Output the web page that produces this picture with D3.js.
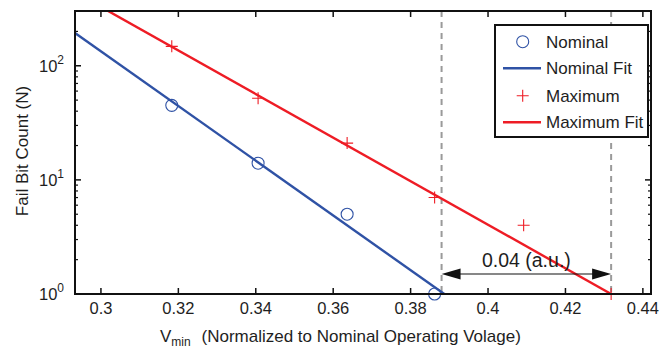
<!DOCTYPE html>
<html>
<head>
<meta charset="utf-8">
<script src="https://cdn.jsdelivr.net/npm/d3@7"></script>
<style>
  html, body { margin: 0; padding: 0; background: #fff; }
  svg { display: block; font-family: "Liberation Sans", Arial, sans-serif; }
</style>
</head>
<body>
<svg id="chart" width="661" height="349"></svg>
<script>
// ---- data ----
const nominalX = [0.3183, 0.3406, 0.3636, 0.3862];
const nominalY = [45, 14, 5, 1];
const maximumX = [0.3183, 0.3406, 0.3636, 0.3862, 0.4092, 0.4318];
const maximumY = [148, 52, 21, 7, 4, 1];
const nominalFitX = [0.2933, 0.3887];
const nominalFitY = [194, 1];
const maximumFitX = [0.2933, 0.4318];
const maximumFitY = [440, 1];
const marginLinesX = [0.3880, 0.4318];
const marginLabel = "0.04 (a.u.)";
const xTicks = [0.30, 0.32, 0.34, 0.36, 0.38, 0.40, 0.42, 0.44];
const xTickLabels = ["0.3", "0.32", "0.34", "0.36", "0.38", "0.4", "0.42", "0.44"];
const yTicks = [1, 10, 100];
const yTickExponents = ["0", "1", "2"];
const legendLabels = ["Nominal", "Nominal Fit", "Maximum", "Maximum Fit"];

// ---- layout ----
const L = 75, R = 651, T = 11, B = 294;
const blue = "#2f52a5", red = "#ee1c25", txt = "#1e1e1e";
const svg = d3.select("#chart");

const x = d3.scaleLinear().domain([0.2933, 0.4421]).range([L, R]);
const y = d3.scaleLog().domain([1, 302]).range([B, T]);

svg.append("defs").append("clipPath").attr("id", "clip")
  .append("rect").attr("x", L).attr("y", T).attr("width", R - L).attr("height", B - T);

const plot = svg.append("g").attr("clip-path", "url(#clip)");

// dashed margin lines
plot.selectAll("line.dash").data(marginLinesX).join("line")
  .attr("x1", d => x(d)).attr("x2", d => x(d))
  .attr("y1", T).attr("y2", B)
  .attr("stroke", "#9a9a9a").attr("stroke-width", 2)
  .attr("stroke-dasharray", "6,5");

// fit lines
const line = d3.line().x(d => x(d[0])).y(d => y(d[1]));
plot.append("path").datum(d3.zip(nominalFitX, nominalFitY))
  .attr("d", line).attr("fill", "none").attr("stroke", blue).attr("stroke-width", 2.4);
plot.append("path").datum(d3.zip(maximumFitX, maximumFitY))
  .attr("d", line).attr("fill", "none").attr("stroke", red).attr("stroke-width", 2.4);

// markers
svg.append("g").selectAll("circle").data(d3.zip(nominalX, nominalY)).join("circle")
  .attr("cx", d => x(d[0])).attr("cy", d => y(d[1])).attr("r", 6)
  .attr("fill", "none").attr("stroke", blue).attr("stroke-width", 1.1);
svg.append("g").selectAll("path").data(d3.zip(maximumX, maximumY)).join("path")
  .attr("transform", d => `translate(${x(d[0])},${y(d[1])})`)
  .attr("d", "M-6,0H6M0,-6V6")
  .attr("stroke", red).attr("stroke-width", 1.1).attr("fill", "none");

// arrow annotation
const ay = 274;
const ax1 = x(marginLinesX[0]), ax2 = x(marginLinesX[1]);
svg.append("line").attr("x1", ax1 + 10).attr("x2", ax2 - 10).attr("y1", ay).attr("y2", ay)
  .attr("stroke", "#111").attr("stroke-width", 1.2);
svg.append("path").attr("d", `M${ax1},${ay}L${ax1 + 19},${ay - 5.5}L${ax1 + 19},${ay + 5.5}Z`).attr("fill", "#111");
svg.append("path").attr("d", `M${ax2},${ay}L${ax2 - 19},${ay - 5.5}L${ax2 - 19},${ay + 5.5}Z`).attr("fill", "#111");
svg.append("text").attr("x", (ax1 + ax2) / 2).attr("y", 267)
  .attr("text-anchor", "middle").attr("font-size", 19.5).attr("fill", txt).text(marginLabel);

// axes frame
const axisG = svg.append("g");
axisG.append("rect").attr("x", L).attr("y", T).attr("width", R - L).attr("height", B - T)
  .attr("fill", "none").attr("stroke", "#111").attr("stroke-width", 2);

// x ticks (inward, top and bottom)
xTicks.forEach((t, i) => {
  const px = x(t);
  axisG.append("line").attr("x1", px).attr("x2", px).attr("y1", B).attr("y2", B - 6).attr("stroke", "#111").attr("stroke-width", 1.5);
  axisG.append("line").attr("x1", px).attr("x2", px).attr("y1", T).attr("y2", T + 6).attr("stroke", "#111").attr("stroke-width", 1.5);
  axisG.append("text").attr("x", px).attr("y", 314).attr("text-anchor", "middle")
    .attr("font-size", 16.5).attr("fill", txt).text(xTickLabels[i]);
});

// y ticks major + minor
const minor = [];
[1, 10, 100].forEach(dec => { for (let k = 2; k <= 9; k++) { const v = dec * k; if (v <= 302) minor.push(v); } });
minor.forEach(v => {
  const py = y(v);
  axisG.append("line").attr("x1", L).attr("x2", L + 3).attr("y1", py).attr("y2", py).attr("stroke", "#111").attr("stroke-width", 1.2);
  axisG.append("line").attr("x1", R).attr("x2", R - 3).attr("y1", py).attr("y2", py).attr("stroke", "#111").attr("stroke-width", 1.2);
});
yTicks.forEach((t, i) => {
  const py = y(t);
  axisG.append("line").attr("x1", L).attr("x2", L + 6).attr("y1", py).attr("y2", py).attr("stroke", "#111").attr("stroke-width", 1.5);
  axisG.append("line").attr("x1", R).attr("x2", R - 6).attr("y1", py).attr("y2", py).attr("stroke", "#111").attr("stroke-width", 1.5);
  const tx = axisG.append("text").attr("x", 39).attr("y", py + 6).attr("fill", txt);
  tx.append("tspan").attr("font-size", 16.5).text("10");
  tx.append("tspan").attr("font-size", 12).attr("dy", -8).text(yTickExponents[i]);
});

// axis labels
svg.append("text").attr("transform", "translate(28,151) rotate(-90)")
  .attr("text-anchor", "middle").attr("font-size", 17).attr("fill", txt).text("Fail Bit Count (N)");
const xl = svg.append("text").attr("x", 160).attr("y", 342).attr("fill", txt).attr("font-size", 17);
xl.append("tspan").text("V");
xl.append("tspan").attr("font-size", 12).attr("dy", 4).text("min");
xl.append("tspan").attr("x", 201.5).attr("dy", -4).text("(Normalized to Nominal Operating Volage)");

// legend
const lg = svg.append("g");
lg.append("rect").attr("x", 495).attr("y", 25).attr("width", 153).attr("height", 112)
  .attr("fill", "#fff").attr("stroke", "#111").attr("stroke-width", 2);
const rows = [41.7, 68.3, 95.7, 122.3];
legendLabels.forEach((lab, i) => {
  const ry = rows[i];
  if (i === 0) lg.append("circle").attr("cx", 522.7).attr("cy", ry).attr("r", 6).attr("fill", "none").attr("stroke", blue).attr("stroke-width", 1.1);
  if (i === 1) lg.append("line").attr("x1", 503).attr("x2", 541).attr("y1", ry).attr("y2", ry).attr("stroke", blue).attr("stroke-width", 2.4);
  if (i === 2) lg.append("path").attr("d", `M${516.7},${ry}H${528.7}M${522.7},${ry - 6}V${ry + 6}`).attr("stroke", red).attr("stroke-width", 1.1);
  if (i === 3) lg.append("line").attr("x1", 503).attr("x2", 541).attr("y1", ry).attr("y2", ry).attr("stroke", red).attr("stroke-width", 2.4);
  lg.append("text").attr("x", 546).attr("y", ry + 6).attr("font-size", 17).attr("fill", txt).text(lab);
});
</script>
</body>
</html>
